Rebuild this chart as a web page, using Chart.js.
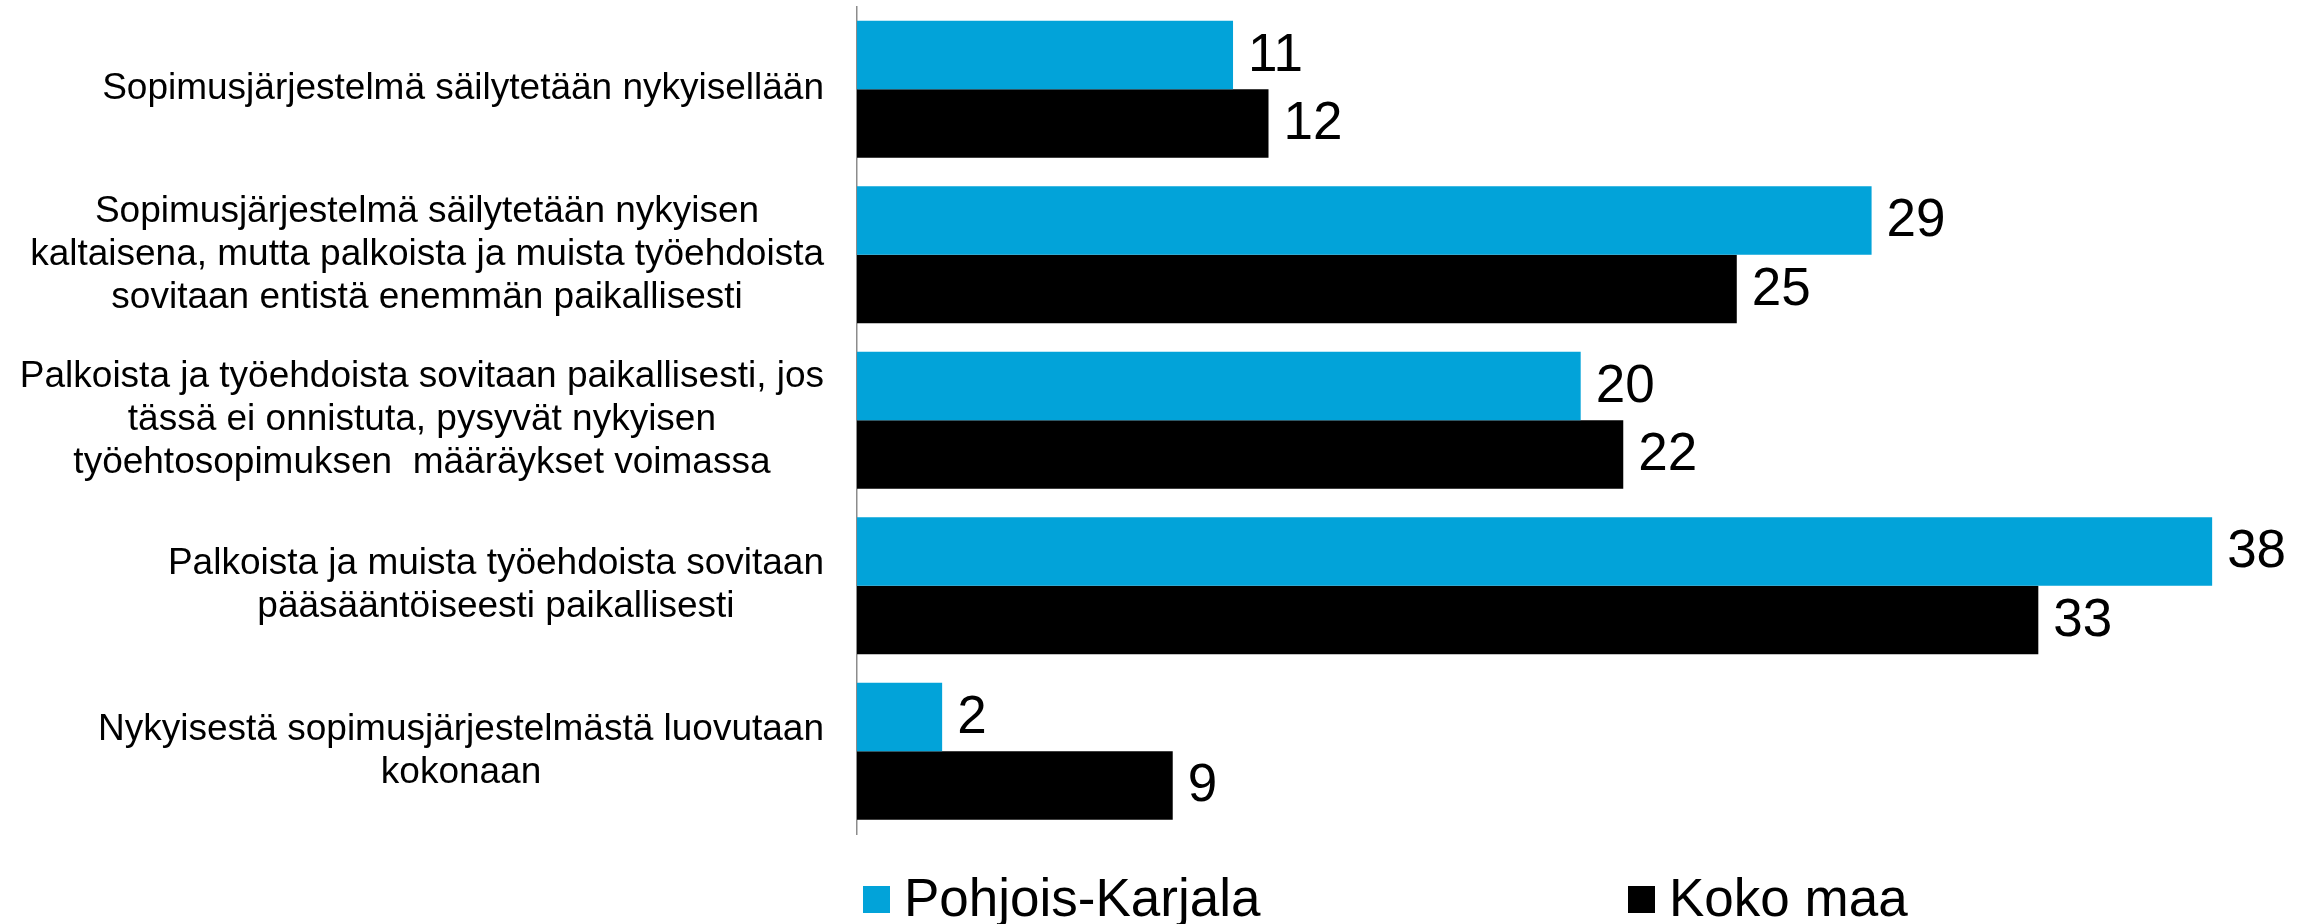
<html>
<head>
    <title>Sopimusjärjestelmä</title>
    <script src="https://cdn.jsdelivr.net/npm/chart.js@4.4.0/dist/chart.umd.min.js"></script>
    <style>
        body { margin: 0; background-color: white; }
        #wrap { width: 2310px; height: 924px; }
    </style>
</head>
<body>
<div id="wrap"><canvas id="chart"></canvas></div>
<script>
    // categories (each is split in lines as in the original slide)
    var categories = [
        ["Sopimusjärjestelmä säilytetään nykyisellään"],
        ["Sopimusjärjestelmä säilytetään nykyisen", "kaltaisena, mutta palkoista ja muista työehdoista", "sovitaan entistä enemmän paikallisesti"],
        ["Palkoista ja työehdoista sovitaan paikallisesti, jos", "tässä ei onnistuta, pysyvät nykyisen", "työehtosopimuksen  määräykset voimassa"],
        ["Palkoista ja muista työehdoista sovitaan", "pääsääntöiseesti paikallisesti"],
        ["Nykyisestä sopimusjärjestelmästä luovutaan", "kokonaan"]
    ];
    var seriesNames = ["Pohjois-Karjala", "Koko maa"];
    var pohjoisKarjala = [10.6, 28.6, 20.4, 38.2, 2.4];
    var kokoMaa = [11.6, 24.8, 21.6, 33.3, 8.9];
    var seriesColors = ["#02a3d9", "#000000"];

    var fontName = "'Liberation Sans', Arial, sans-serif";
    Chart.defaults.font.family = fontName;
    Chart.defaults.color = "#000000";

    // labels on the left, each block centred on its widest line
    var categoryLabels = {
        id: "categoryLabels",
        afterDraw: function (chart) {
            var ctx = chart.ctx;
            var yScale = chart.scales.y;
            var rightEdge = chart.chartArea.left - 33;
            var lineHeight = 43;
            ctx.save();
            ctx.font = "37px " + fontName;
            ctx.fillStyle = "#000000";
            ctx.textAlign = "center";
            ctx.textBaseline = "middle";
            for (var i = 0; i < categories.length; i++) {
                var lines = categories[i];
                var maxW = 0;
                for (var j = 0; j < lines.length; j++) {
                    maxW = Math.max(maxW, ctx.measureText(lines[j]).width);
                }
                var cx = rightEdge - maxW / 2;
                var cy = yScale.getPixelForValue(i);
                for (var j = 0; j < lines.length; j++) {
                    ctx.fillText(lines[j], cx, cy + (j - (lines.length - 1) / 2) * lineHeight);
                }
            }
            ctx.restore();
        }
    };

    // value at the end of every bar
    var valueLabels = {
        id: "valueLabels",
        afterDatasetsDraw: function (chart) {
            var ctx = chart.ctx;
            ctx.save();
            ctx.font = "53px " + fontName;
            ctx.fillStyle = "#000000";
            ctx.textAlign = "left";
            ctx.textBaseline = "middle";
            chart.data.datasets.forEach(function (ds, d) {
                var meta = chart.getDatasetMeta(d);
                meta.data.forEach(function (bar, i) {
                    ctx.fillText(Math.round(ds.data[i]), bar.x + 15, bar.y + 1);
                });
            });
            ctx.restore();
        }
    };

    // legend under the chart
    var bottomLegend = {
        id: "bottomLegend",
        afterDraw: function (chart) {
            var ctx = chart.ctx;
            var left = chart.chartArea.left;
            var offsets = [6, 771];
            var cy = 899.5;
            ctx.save();
            ctx.font = "53px " + fontName;
            ctx.textAlign = "left";
            ctx.textBaseline = "middle";
            for (var i = 0; i < seriesNames.length; i++) {
                var x = left + offsets[i];
                ctx.fillStyle = seriesColors[i];
                ctx.fillRect(x, cy - 13.5, 27, 27);
                ctx.fillStyle = "#000000";
                ctx.fillText(seriesNames[i], x + 41, cy + 2);
            }
            ctx.restore();
        }
    };

    var myChart = new Chart(document.getElementById("chart"), {
        type: "bar",
        data: {
            labels: categories,
            datasets: [{
                label: seriesNames[0],
                data: pohjoisKarjala,
                backgroundColor: seriesColors[0],
                categoryPercentage: 0.828,
                barPercentage: 1.0
            }, {
                label: seriesNames[1],
                data: kokoMaa,
                backgroundColor: seriesColors[1],
                categoryPercentage: 0.828,
                barPercentage: 1.0
            }]
        },
        options: {
            indexAxis: "y",
            responsive: true,
            maintainAspectRatio: false,
            animation: false,
            layout: {
                padding: { left: 857, right: 34, top: 6.5, bottom: 90 }
            },
            plugins: {
                legend: { display: false },
                tooltip: { enabled: false }
            },
            scales: {
                x: {
                    display: false,
                    min: 0,
                    max: 40
                },
                y: {
                    ticks: { display: false },
                    grid: { display: false, drawTicks: false },
                    border: { display: true, color: "#8c8c8c", width: 1.5 }
                }
            }
        },
        plugins: [categoryLabels, valueLabels, bottomLegend]
    });
</script>
</body>
</html>
